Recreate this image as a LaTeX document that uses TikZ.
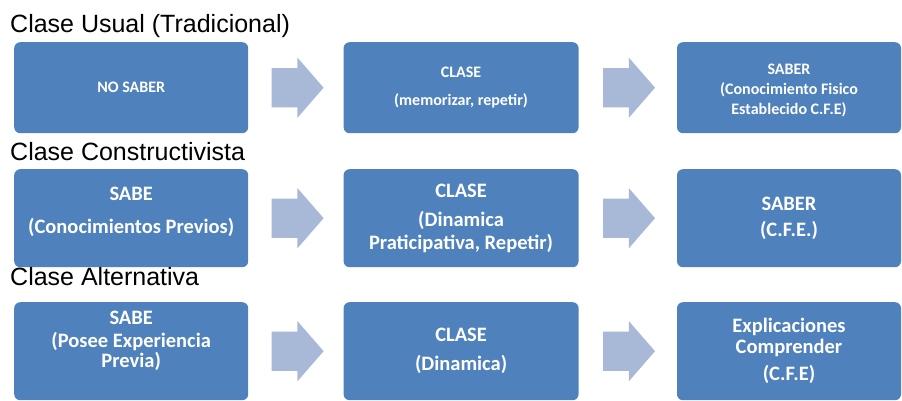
\documentclass[tikz,border=0pt]{standalone}
\usepackage{fontspec}
\newfontfamily\titlefont{Liberation Sans}
\newfontfamily\boxfont{Carlito}
\usetikzlibrary{positioning,calc,shapes.arrows}
\definecolor{boxblue}{RGB}{79,129,189}
\definecolor{flowblue}{RGB}{168,185,216}
\tikzset{
  stage/.style = {rectangle, rounded corners=6pt, fill=boxblue, text=white,
    align=center, inner sep=2pt, font=\boxfont\bfseries},
  stage_a/.style = {stage, minimum height=91pt, font=\boxfont\bfseries\fontsize{16}{20}\selectfont},
  stage_b/.style = {stage, minimum height=98pt, font=\boxfont\bfseries\fontsize{20.5}{23}\selectfont},
  flow/.style = {single arrow, fill=flowblue, inner xsep=0pt, inner ysep=19.5pt,
    minimum height=52pt, minimum width=60pt, single arrow head extend=10.5pt,
    single arrow tip angle=98, anchor=tail},
  rowtitle/.style = {anchor=base west, inner sep=0pt,
    font=\titlefont\fontsize{25}{29}\selectfont}
}

\begin{document}
\begin{tikzpicture}[x=1pt,y=-1pt]
\useasboundingbox (0,0) rectangle (902,400);

% Clase Usual
\node [rowtitle] (t1) at (10,32) {Clase Usual (Tradicional)};
\node [stage_a, minimum width=234pt, anchor=north west] (u1) at (14,42) {NO SABER};
\node [stage_a, minimum width=235pt, right=95pt of u1] (u2) {CLASE\\[8pt](memorizar, repetir)};
\node [stage_a, minimum width=224pt, right=98pt of u2] (u3) {\mbox{}\\[-4pt]SABER\\(Conocimiento Fisico\\Establecido C.F.E)};
\node [flow] (fu1) at ($(u1.east)+(23,0)$) {};
\node [flow] (fu2) at ($(u2.east)+(24,0)$) {};

% Clase Constructivista
\node [rowtitle] (t2) at (10,160) {Clase Constructivista};
\node [stage_b, minimum width=234pt, anchor=north west] (c1) at (14,169) {SABE\\[10pt](Conocimientos Previos)\\[-7pt]\mbox{}};
\node [stage_b, minimum width=235pt, right=95pt of c1] (c2) {CLASE\\[6pt](Dinamica\\Praticipativa, Repetir)};
\node [stage_b, minimum width=224pt, right=98pt of c2] (c3) {SABER\\[3pt](C.F.E.)};
\node [flow] (fc1) at ($(c1.east)+(23,0)$) {};
\node [flow] (fc2) at ($(c2.east)+(24,0)$) {};

% Clase Alternativa
\node [rowtitle] (t3) at (10,285) {Clase Alternativa};
\node [stage_b, minimum width=234pt, anchor=north west] (a1) at (14,302) {SABE\\(Posee Experiencia\\[-3pt]Previa)\\[1pt]\mbox{}};
\node [stage_b, minimum width=235pt, right=95pt of a1] (a2) {CLASE\\[6pt](Dinamica)};
\node [stage_b, minimum width=224pt, right=98pt of a2] (a3) {Explicaciones\\[-2pt]Comprender\\[4pt](C.F.E)};
\node [flow] (fa1) at ($(a1.east)+(23,0)$) {};
\node [flow] (fa2) at ($(a2.east)+(24,0)$) {};
\end{tikzpicture}
\end{document}
